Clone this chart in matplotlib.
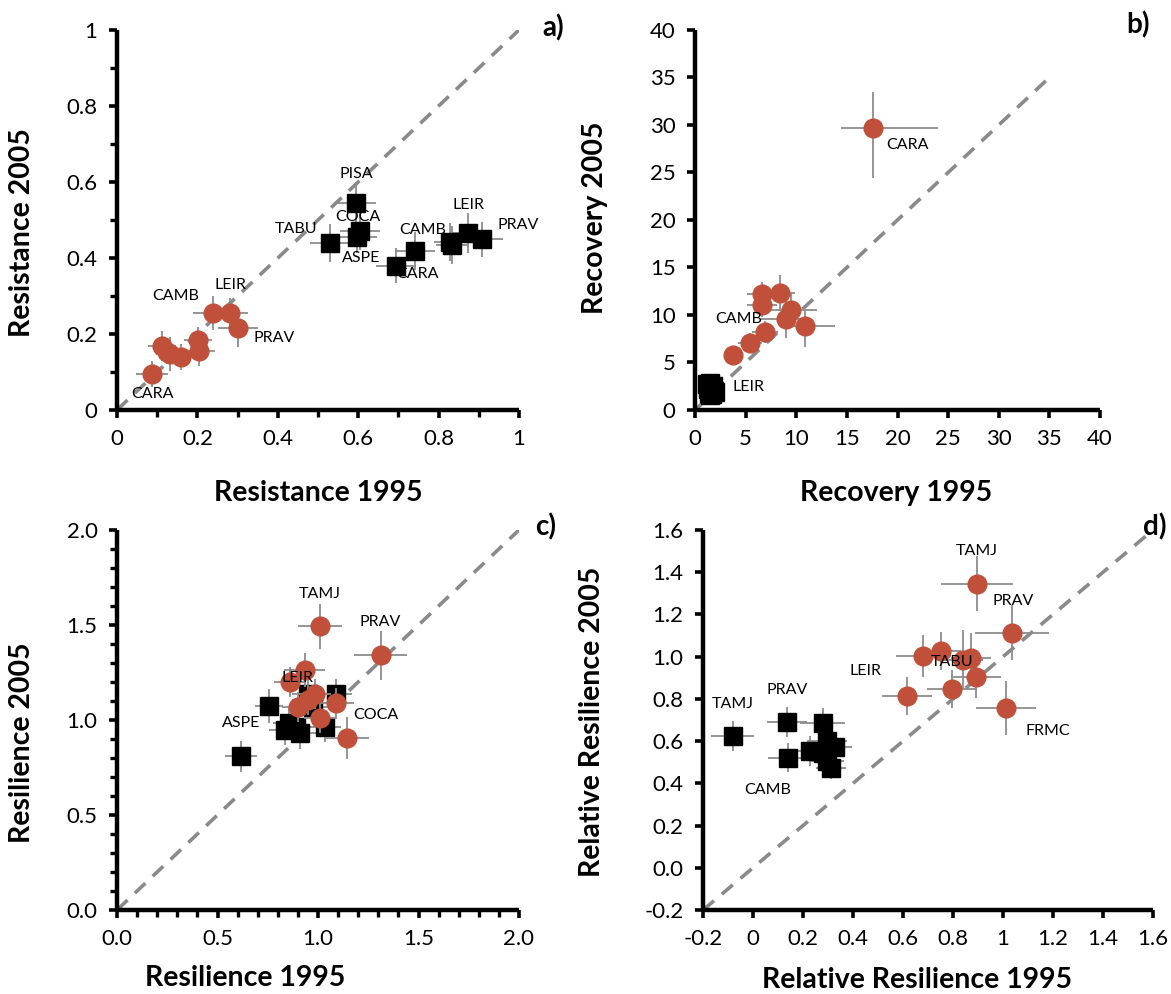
import matplotlib
matplotlib.use("Agg")
import matplotlib.pyplot as plt
from matplotlib.ticker import MultipleLocator, FixedLocator, FuncFormatter

plt.rcParams['font.family'] = ['Lato', 'DejaVu Sans']

RED = '#C0503A'
GRAY = '#8C8C8C'

# ---------------- Panel a: Resistance ----------------
a_red_x = [0.088, 0.111, 0.132, 0.159, 0.202, 0.204, 0.238, 0.281, 0.300, 0.125]
a_red_y = [0.095, 0.168, 0.147, 0.139, 0.184, 0.156, 0.256, 0.256, 0.215, 0.152]
a_red_xerr = [0.04, 0.035, 0.035, 0.03, 0.035, 0.04, 0.05, 0.045, 0.05, 0.03]
a_red_yerr = [0.035, 0.04, 0.045, 0.035, 0.035, 0.04, 0.045, 0.04, 0.05, 0.03]
a_blk_x = [0.595, 0.604, 0.598, 0.530, 0.694, 0.741, 0.828, 0.833, 0.874, 0.907]
a_blk_y = [0.546, 0.471, 0.454, 0.439, 0.380, 0.418, 0.443, 0.434, 0.465, 0.449]
a_blk_xerr = [0.05, 0.05, 0.05, 0.05, 0.05, 0.05, 0.04, 0.04, 0.04, 0.054]
a_blk_yerr = [0.05, 0.05, 0.04, 0.05, 0.045, 0.05, 0.05, 0.05, 0.053, 0.046]
a_red_labels = [(0, 'CARA'), (6, 'CAMB'), (7, 'LEIR'), (8, 'PRAV')]
a_blk_labels = [(0, 'PISA'), (1, 'COCA'), (2, 'ASPE'), (3, 'TABU'), (4, 'CARA'),
                (5, 'CAMB'), (8, 'LEIR'), (9, 'PRAV')]

# ---------------- Panel b: Recovery ----------------
b_red_x = [17.6, 6.6, 6.6, 8.4, 9.5, 9.0, 10.9, 6.9, 5.4, 3.75]
b_red_y = [29.7, 12.2, 11.1, 12.3, 10.5, 9.6, 8.8, 8.2, 7.06, 5.83]
b_red_xerr_lo = [3.2, 1.5, 1.5, 1.5, 2.5, 2.5, 2.0, 1.3, 1.2, 0.8]
b_red_xerr_hi = [6.4, 1.5, 1.5, 1.5, 2.5, 2.5, 2.9, 1.3, 1.2, 0.8]
b_red_yerr_lo = [5.3, 1.3, 1.3, 1.9, 1.8, 2.0, 2.2, 1.2, 1.0, 0.8]
b_red_yerr_hi = [3.8, 1.3, 1.3, 1.9, 1.8, 2.0, 1.6, 1.2, 1.0, 0.8]
b_blk_x = [1.2, 1.5, 1.8, 1.3, 1.6, 1.9, 1.4, 1.7, 2.0, 1.5]
b_blk_y = [2.7, 2.8, 2.5, 2.2, 2.3, 2.0, 1.8, 1.7, 1.9, 1.6]
b_blk_xerr = [0.3] * 10
b_blk_yerr = [0.3] * 10
b_red_labels = [(0, 'CARA'), (7, 'CAMB')]
b_blk_labels = [(4, 'LEIR')]

# ---------------- Panel c: Resilience ----------------
c_red_x = [1.010, 1.311, 0.933, 0.860, 0.986, 0.952, 0.901, 1.089, 1.008, 1.142]
c_red_y = [1.493, 1.341, 1.262, 1.201, 1.136, 1.105, 1.070, 1.087, 1.012, 0.904]
c_red_xerr = [0.11, 0.13, 0.10, 0.08, 0.08, 0.08, 0.08, 0.09, 0.08, 0.11]
c_red_yerr = [0.12, 0.13, 0.09, 0.08, 0.08, 0.08, 0.08, 0.08, 0.08, 0.11]
c_blk_x = [0.616, 0.757, 1.089, 0.952, 0.976, 0.854, 0.836, 0.911, 1.033, 0.892]
c_blk_y = [0.808, 1.073, 1.136, 1.136, 1.070, 0.982, 0.948, 0.930, 0.962, 0.965]
c_blk_xerr = [0.08, 0.07, 0.08, 0.08, 0.08, 0.08, 0.08, 0.08, 0.08, 0.08]
c_blk_yerr = [0.08, 0.09, 0.08, 0.08, 0.08, 0.08, 0.08, 0.08, 0.08, 0.08]
c_red_labels = [(0, 'TAMJ'), (1, 'PRAV'), (3, 'LEIR'), (9, 'COCA')]
c_blk_labels = [(0, 'ASPE')]

# ---------------- Panel d: Relative resilience ----------------
d_red_x = [0.894, 1.035, 0.681, 0.752, 0.841, 0.871, 0.891, 0.795, 0.617, 1.012]
d_red_y = [1.346, 1.114, 1.004, 1.029, 0.985, 0.993, 0.903, 0.847, 0.815, 0.757]
d_red_xerr = [0.144, 0.148, 0.11, 0.08, 0.08, 0.08, 0.10, 0.10, 0.10, 0.12]
d_red_yerr = [0.13, 0.13, 0.10, 0.09, 0.14, 0.12, 0.10, 0.09, 0.09, 0.13]
d_blk_x = [-0.082, 0.137, 0.279, 0.140, 0.228, 0.294, 0.327, 0.279, 0.294, 0.312]
d_blk_y = [0.624, 0.691, 0.687, 0.522, 0.553, 0.600, 0.574, 0.545, 0.506, 0.472]
d_blk_xerr = [0.087, 0.08, 0.09, 0.08, 0.06, 0.08, 0.07, 0.07, 0.07, 0.06]
d_blk_yerr = [0.07, 0.07, 0.07, 0.07, 0.07, 0.06, 0.05, 0.05, 0.05, 0.05]
d_red_labels = [(0, 'TAMJ'), (1, 'PRAV'), (4, 'TABU'), (8, 'LEIR'), (9, 'FRMC')]
d_blk_labels = [(0, 'TAMJ'), (1, 'PRAV'), (3, 'CAMB')]

# label offsets in pixels (dx right, dy up)
offs = {
    'a_red': {0: (0, -20), 6: (-37, 17), 7: (1, 28), 8: (37, -10)},
    'a_blk': {0: (0, 29), 1: (-2, 14), 2: (4, -21), 3: (-34, 14), 4: (22, -8),
              5: (8, 21), 8: (0, 28), 9: (37, 14)},
    'b_red': {0: (34, -17), 7: (-26, 13)},
    'b_blk': {4: (37, 1)},
    'c_red': {0: (0, 32), 1: (0, 33), 3: (8, 4), 9: (29, 23)},
    'c_blk': {0: (0, 33)},
    'd_red': {0: (0, 33), 1: (1, 32), 4: (-11, -2), 8: (-42, 25), 9: (42, -23)},
    'd_blk': {0: (0, 32), 1: (0, 32), 3: (-20, -32)},
}

W, H = 1171, 994
fig = plt.figure(figsize=(W / 100, H / 100), dpi=100)

LBL = 11.5


def px_axes(l, r, t, b):
    return fig.add_axes([l / W, 1 - b / H, (r - l) / W, (b - t) / H])


def style(ax):
    for s in ['top', 'right']:
        ax.spines[s].set_visible(False)
    for s in ['left', 'bottom']:
        ax.spines[s].set_linewidth(3.2)
        ax.spines[s].set_capstyle('butt')
    ax.tick_params(which='major', direction='out', length=6, width=2.6,
                   labelsize=16, pad=8)
    ax.tick_params(which='minor', direction='out', length=5, width=2.4)


def put_labels(ax, xs, ys, labs, off):
    for i, t in labs:
        dx, dy = off[i]
        ax.annotate(t, (xs[i], ys[i]), xytext=(dx * 0.72, dy * 0.72),
                    textcoords='offset points', ha='center', va='center',
                    fontsize=LBL, zorder=6)


def panel(ax, key, rx, ry, rxe, rye, bx, by, bxe, bye, rlab, blab):
    ax.errorbar(bx, by, xerr=bxe, yerr=bye, fmt='none', ecolor=GRAY,
                elinewidth=1.3, capsize=0, zorder=2)
    ax.plot(bx, by, 's', color='black', markersize=12.5, zorder=3, clip_on=False)
    ax.errorbar(rx, ry, xerr=rxe, yerr=rye, fmt='none', ecolor=GRAY,
                elinewidth=1.3, capsize=0, zorder=4)
    ax.plot(rx, ry, 'o', color=RED, markersize=13.5, zorder=5, clip_on=False)
    put_labels(ax, rx, ry, rlab, offs[key + '_red'])
    put_labels(ax, bx, by, blab, offs[key + '_blk'])


title_kw = dict(fontsize=20.5, fontweight='bold')
DASH = dict(color='#8A8A8A', lw=2.6, dashes=(4, 2.8), zorder=1)

# ---- a ----
ax = px_axes(117, 519, 30, 410)
style(ax)
ax.plot([0, 1], [0, 1], '--', **DASH)
panel(ax, 'a', a_red_x, a_red_y, a_red_xerr, a_red_yerr,
      a_blk_x, a_blk_y, a_blk_xerr, a_blk_yerr, a_red_labels, a_blk_labels)
ax.set_xlim(0, 1); ax.set_ylim(0, 1)
ax.xaxis.set_major_locator(MultipleLocator(0.2))
ax.xaxis.set_minor_locator(MultipleLocator(0.1))
ax.yaxis.set_major_locator(MultipleLocator(0.2))
ax.yaxis.set_minor_locator(MultipleLocator(0.1))
fmt_a = FuncFormatter(lambda v, p: '0' if abs(v) < 1e-9 else ('1' if abs(v - 1) < 1e-9 else f'{v:.1f}'))
ax.xaxis.set_major_formatter(fmt_a); ax.yaxis.set_major_formatter(fmt_a)
ax.set_xlabel('Resistance 1995', **title_kw)
ax.set_ylabel('Resistance 2005', **title_kw)
ax.xaxis.set_label_coords(0.5, -0.184)
ax.yaxis.set_label_coords(-0.204, 0.466)

# ---- b ----
ax = px_axes(695, 1100, 30, 410)
style(ax)
ax.plot([0, 35], [0, 35], '--', **DASH)
ax.errorbar(b_blk_x, b_blk_y, xerr=b_blk_xerr, yerr=b_blk_yerr, fmt='none',
            ecolor=GRAY, elinewidth=1.3, capsize=0, zorder=2)
ax.plot(b_blk_x, b_blk_y, 's', color='black', markersize=12.5, zorder=3, clip_on=False)
ax.errorbar(b_red_x, b_red_y, xerr=[b_red_xerr_lo, b_red_xerr_hi],
            yerr=[b_red_yerr_lo, b_red_yerr_hi], fmt='none', ecolor=GRAY,
            elinewidth=1.3, capsize=0, zorder=4)
ax.plot(b_red_x, b_red_y, 'o', color=RED, markersize=13.5, zorder=5)
put_labels(ax, b_red_x, b_red_y, b_red_labels, offs['b_red'])
put_labels(ax, b_blk_x, b_blk_y, b_blk_labels, offs['b_blk'])
ax.set_xlim(0, 40); ax.set_ylim(0, 40)
ax.xaxis.set_major_locator(MultipleLocator(5))
ax.yaxis.set_major_locator(MultipleLocator(5))
ax.set_xlabel('Recovery 1995', **title_kw)
ax.set_ylabel('Recovery 2005', **title_kw)
ax.xaxis.set_label_coords(0.496, -0.184)
ax.yaxis.set_label_coords(-0.215, 0.505)

# ---- c ----
ax = px_axes(117, 519, 530, 910)
style(ax)
ax.plot([0, 2], [0, 2], '--', **DASH)
panel(ax, 'c', c_red_x, c_red_y, c_red_xerr, c_red_yerr,
      c_blk_x, c_blk_y, c_blk_xerr, c_blk_yerr, c_red_labels, c_blk_labels)
ax.set_xlim(0, 2); ax.set_ylim(0, 2)
ax.xaxis.set_major_locator(MultipleLocator(0.5))
ax.xaxis.set_minor_locator(MultipleLocator(0.1))
ax.yaxis.set_major_locator(MultipleLocator(0.5))
ax.yaxis.set_minor_locator(MultipleLocator(0.1))
ax.xaxis.set_major_formatter(FuncFormatter(lambda v, p: f'{v:.1f}'))
ax.yaxis.set_major_formatter(FuncFormatter(lambda v, p: f'{v:.1f}'))
ax.set_xlabel('Resilience 1995', **title_kw)
ax.set_ylabel('Resilience 2005', **title_kw)
ax.xaxis.set_label_coords(0.318, -0.145)
ax.yaxis.set_label_coords(-0.204, 0.44)

# ---- d ----
ax = px_axes(703, 1153, 530, 910)
style(ax)
ax.plot([-0.2, 1.6], [-0.2, 1.6], '--', **DASH)
panel(ax, 'd', d_red_x, d_red_y, d_red_xerr, d_red_yerr,
      d_blk_x, d_blk_y, d_blk_xerr, d_blk_yerr, d_red_labels, d_blk_labels)
ax.set_xlim(-0.2, 1.6); ax.set_ylim(-0.2, 1.6)
ticks_d = [-0.2, 0, 0.2, 0.4, 0.6, 0.8, 1.0, 1.2, 1.4, 1.6]
ax.xaxis.set_major_locator(FixedLocator(ticks_d))
ax.yaxis.set_major_locator(FixedLocator(ticks_d))
ax.xaxis.set_major_formatter(FuncFormatter(
    lambda v, p: '0' if abs(v) < 1e-9 else ('1' if abs(v - 1) < 1e-9 else f'{v:.1f}')))
ax.yaxis.set_major_formatter(FuncFormatter(lambda v, p: f'{v:.1f}'))
ax.set_xlabel('Relative Resilience 1995', **title_kw)
ax.set_ylabel('Relative Resilience 2005', **title_kw)
ax.xaxis.set_label_coords(0.476, -0.15)
ax.yaxis.set_label_coords(-0.218, 0.495)

# panel letters
for (x, y, t) in [(553, 28, 'a)'), (1138, 25, 'b)'), (546, 527, 'c)'), (1155, 527, 'd)')]:
    fig.text(x / W, 1 - y / H, t, fontsize=20, fontweight='bold', ha='center', va='center')

fig.savefig('out.png', dpi=100)
